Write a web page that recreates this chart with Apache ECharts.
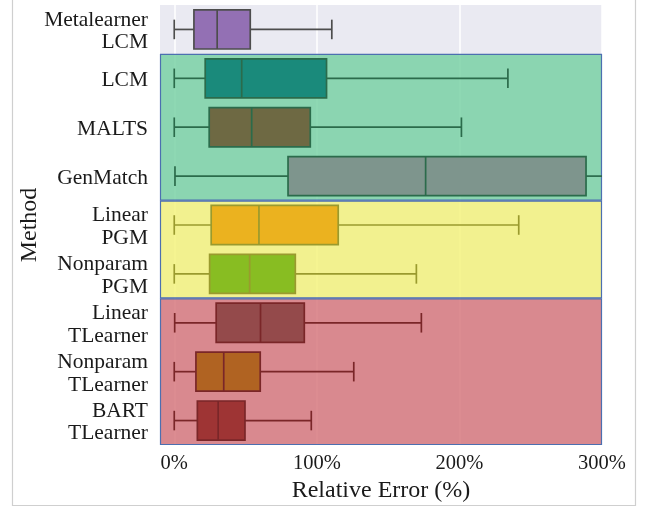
<!DOCTYPE html>
<html>
<head>
<meta charset="utf-8">
<script src="https://cdn.jsdelivr.net/npm/echarts@6/dist/echarts.min.js"></script>
<style>html,body{margin:0;padding:0;background:#fff;}#c{width:646px;height:508px;}</style>
</head>
<body>
<div id="c"></div>
<script>
// ---- data ----
const methods = ['Metalearner\nLCM','LCM','MALTS','GenMatch','Linear\nPGM','Nonparam\nPGM','Linear\nTLearner','Nonparam\nTLearner','BART\nTLearner'];
// [lower whisker, Q1, median, Q3, upper whisker] in %
const boxStats = [
  [0, 13.8, 30.1, 53.3, 110.5],
  [0, 21.7, 47.3, 106.8, 234],
  [0, 24.5, 54.3, 95.4, 201.4],
  [0.5, 79.8, 176.3, 288.8, 310],
  [0, 25.9, 59.4, 115, 241.6],
  [0, 24.8, 52.9, 84.9, 169.8],
  [0.3, 29.4, 60.5, 91.2, 173.3],
  [0, 15.2, 34.7, 60.3, 125.9],
  [0, 16.2, 30.8, 49.6, 96.1]
];
const boxFill = ['#9370b4','#1a8a7b','#6e6943','#7e958d','#ebb21f','#88bd22','#944a4b','#b06322','#9e3434'];
const boxEdge = ['#4d4d4d','#2b6b4b','#2b6b4b','#2b6b4b','#9a9a2e','#9a9a2e','#7a2628','#7a2628','#7a2628'];
// groups: [first category index, last category index]
const groupRanges = [[1,3],[4,5],[6,8]];
const groupColors = ['rgba(115,207,160,0.8)','rgba(244,242,117,0.8)','rgba(213,112,118,0.8)'];
const xTicks = [0,100,200,300];
const xMin = -10, xMax = 300;

const font = 'Liberation Serif';
const chart = echarts.init(document.getElementById('c'), null, {renderer:'canvas'});
chart.setOption({
  animation:false,
  backgroundColor:'#ffffff',
  grid:{left:160, right:44, top:5, bottom:63, show:true, backgroundColor:'#eaeaf2', borderWidth:0},
  xAxis:{
    type:'value', min:xMin, max:xMax,
    name:'Relative Error (%)', nameLocation:'middle', nameGap:28,
    nameTextStyle:{fontFamily:font, fontSize:24, color:'#1a1a1a'},
    axisLine:{show:false}, axisTick:{show:false, customValues:xTicks},
    axisLabel:{customValues:xTicks, formatter:v=>v+'%', fontFamily:font, fontSize:20.5, color:'#1a1a1a', margin:8},
    splitLine:{show:true, lineStyle:{color:'#ffffff', width:1.5}}
  },
  yAxis:{
    type:'category', data:methods, inverse:true,
    name:'Method', nameLocation:'middle', nameGap:118, nameRotate:90, nameMoveOverlap:false,
    nameTextStyle:{fontFamily:font, fontSize:24, color:'#1a1a1a'},
    axisLine:{show:false}, axisTick:{show:false},
    axisLabel:{interval:0, margin:12, align:'right',
      formatter:v=>v.split('\n').map(s=>'{t|'+s+'}').join('\n'),
      rich:{t:{fontFamily:font, fontSize:21.5, color:'#1a1a1a', lineHeight:22.5, padding:[4,0,0,0], align:'right'}}},
    splitLine:{show:false}
  },
  graphic:[{type:'rect', silent:true, z:100, shape:{x:12.5, y:-5, width:623, height:510.5}, style:{fill:null, stroke:'#cfcfcf', lineWidth:1.2}}],
  series:[
    {
      type:'custom', z:1, silent:true,
      data: groupRanges.map((g,i)=>[g[0], g[1], i]),
      renderItem:function(params, api){
        const a = api.value(0), b = api.value(1), gi = api.value(2);
        const h = api.size([0,1])[1];
        const p0 = api.coord([xMin, a]);
        const p1 = api.coord([xMax, b]);
        return {type:'rect', shape:{x:p0[0]+0.5, y:p0[1]-h/2+0.5, width:p1[0]-p0[0]-1, height:p1[1]-p0[1]+h-1},
          style:{fill:groupColors[gi], stroke:'#4c6fb0', lineWidth:1.2}};
      },
      encode:{x:-1, y:0}
    },
    {
      type:'custom', z:3, silent:true,
      data: boxStats.map((s,i)=>[i].concat(s)),
      encode:{y:0, x:[1,2,3,4,5]},
      renderItem:function(params, api){
        const i = api.value(0);
        const h = api.size([0,1])[1];
        const yc = api.coord([0, i])[1];
        const xs = [1,2,3,4,5].map(k=>api.coord([api.value(k), i])[0]);
        const left = params.coordSys.x, right = params.coordSys.x + params.coordSys.width;
        const bh = h*0.8, cap = h*0.2;
        const col = boxEdge[i], fill = boxFill[i];
        const ls = {stroke:col, lineWidth:1.7};
        const children = [];
        const lw = Math.max(xs[0], left), uw = Math.min(xs[4], right);
        children.push({type:'line', shape:{x1:lw, y1:yc, x2:xs[1], y2:yc}, style:ls});
        children.push({type:'line', shape:{x1:xs[3], y1:yc, x2:uw, y2:yc}, style:ls});
        if (xs[0] >= left) children.push({type:'line', shape:{x1:xs[0], y1:yc-cap, x2:xs[0], y2:yc+cap}, style:ls});
        if (xs[4] <= right) children.push({type:'line', shape:{x1:xs[4], y1:yc-cap, x2:xs[4], y2:yc+cap}, style:ls});
        children.push({type:'rect', shape:{x:xs[1], y:yc-bh/2, width:xs[3]-xs[1], height:bh}, style:{fill:fill, stroke:col, lineWidth:1.7}});
        children.push({type:'line', shape:{x1:xs[2], y1:yc-bh/2, x2:xs[2], y2:yc+bh/2}, style:ls});
        return {type:'group', children:children};
      }
    }
  ]
});
</script>
</body>
</html>
